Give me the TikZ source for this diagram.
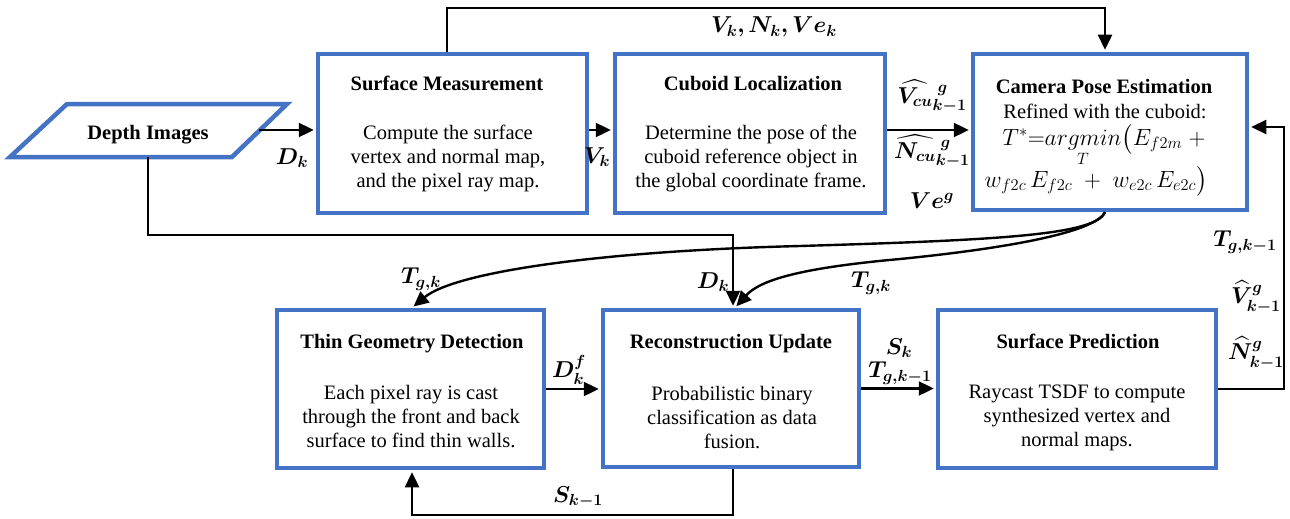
\RequirePackage{fix-cm}
\documentclass[tikz,border=0pt]{standalone}
\usepackage{amsmath}
\usepackage{bm}
\usepackage{fontspec}
\setmainfont{Liberation Serif}
\usetikzlibrary{arrows.meta}
\definecolor{boxblue}{HTML}{4472C4}
\newcommand\dgfont{\fontsize{20.5}{24}\selectfont}
\newcommand\mlfont{\fontsize{23}{26}\selectfont}
\newcommand\fmfont{\fontsize{23.5}{28}\selectfont}
\tikzset{
  box/.style={draw=boxblue, line width=4.5pt, inner sep=0pt, fill=white},
  arr/.style={line width=2.4pt, -{Triangle[length=15pt,width=14pt]}, shorten >=2pt},
  ttl/.style={font=\dgfont\bfseries, anchor=base, inner sep=0pt},
  txt/.style={font=\dgfont, align=center, inner sep=0pt},
  lab/.style={font=\dgfont, inner sep=0pt},
  mlab/.style={font=\mlfont, inner sep=0pt},
  fml/.style={font=\fmfont, inner sep=0pt, anchor=base}
}
\begin{document}
\begin{tikzpicture}[x=1pt,y=-1pt]
\useasboundingbox (0,0) rectangle (1290,519);
% boxes
\node[box,minimum width=269,minimum height=159] (sm) at (452.5,133.5) {};
\node[box,minimum width=270,minimum height=159] (cl) at (750,133.5) {};
\node[box,minimum width=274,minimum height=156] (cpe) at (1110,132) {};
\node[box,minimum width=267,minimum height=158] (tgd) at (410.5,389) {};
\node[box,minimum width=256,minimum height=157] (ru) at (731,388.5) {};
\node[box,minimum width=278,minimum height=158] (sp) at (1077,389) {};
% depth images parallelogram
\draw[boxblue, line width=4.5pt, line join=miter] (67,104) -- (287,104) -- (232,157) -- (10,157) -- cycle;
\coordinate (diR) at (259,130);
\coordinate (diB) at (148,157);
\coordinate (dturn) at (148,235);
% texts
\node[ttl] (diT) at (148,139) {Depth Images};
\node[ttl] (smT) at (447,90) {Surface Measurement};
\node[txt] (smB) at (448,158) {Compute the surface\\vertex and normal map,\\and the pixel ray map.};
\node[ttl] (clT) at (753,90) {Cuboid Localization};
\node[txt] (clB) at (751,158) {Determine the pose of the\\cuboid reference object in\\the global coordinate frame.};
\node[ttl] (cpeT) at (1104,93) {Camera Pose Estimation};
\node[lab, anchor=base] (cpeR) at (1105,118) {Refined with the cuboid:};
\node[fml] (cpeF1) at (1104,145) {$T^{*}{=}\underset{T}{argmin}\big(E_{f2m}\;+$};
\node[fml] (cpeF2) at (1096,187) {$w_{f2c}\,E_{f2c}\;+\;w_{e2c}\,E_{e2c}\big)$};
\node[ttl] (tgdT) at (412,348) {Thin Geometry Detection};
\node[txt] (tgdB) at (411,417) {Each pixel ray is cast\\through the front and back\\surface to find thin walls.};
\node[ttl] (ruT) at (731,348) {Reconstruction Update};
\node[txt] (ruB) at (732,418) {Probabilistic binary\\classification as data\\fusion.};
\node[ttl] (spT) at (1078,348) {Surface Prediction};
\node[txt] (spB) at (1077,418) {Raycast TSDF to compute\\synthesized vertex and\\normal maps.};
% connectors
\draw[arr] (diR) -- (sm.west |- diR);
\draw[arr] (sm.east |- diR) -- (cl.west |- diR);
\draw[arr] (cl.east |- diR) -- (cpe.west |- diR);
\draw[arr] ([xshift=-5.5pt]sm.north) -- ++(0,-44) -| ([xshift=-5pt]cpe.north);
\draw[arr] (diB) -- (dturn) -| ([xshift=2pt]ru.north);
\draw[arr] ([xshift=-5pt]cpe.south) .. controls (1095,235) and (1000,240) .. (800,246)
   .. controls (600,251) and (455,272) .. ([xshift=1.5pt]tgd.north);
\draw[arr] ([xshift=-5pt]cpe.south) .. controls (1095,232) and (1010,248) .. (900,259)
   .. controls (800,268) and (760,280) .. ([xshift=4pt]ru.north);
\draw[arr] (tgd.east) -- (ru.west |- tgd.east);
\draw[arr] (ru.east) -- (sp.west |- ru.east);
\draw[arr] (sp.east) -- ++(66,0) |- ([yshift=5pt]cpe.east);
\draw[arr] ([xshift=2pt]ru.south) -- ++(0,46) -| ([xshift=1.5pt]tgd.south);
% labels
\node[mlab] (l1) at (292,158) {$\bm{D_k}$};
\node[mlab] (l2) at (597,157) {$\bm{V_k}$};
\node[mlab] (l3) at (774,27) {$\bm{V_k, N_k, Ve_k}$};
\node[mlab] (l4) at (932,96) {$\bm{\widehat{V_{cu}}{}_{k-1}^{\;g}}$};
\node[mlab] (l5) at (932,151) {$\bm{\widehat{N_{cu}}{}_{k-1}^{\;g}}$};
\node[mlab] (l6) at (932,201) {$\bm{Ve^{g}}$};
\node[mlab] (l7) at (421,279) {$\bm{T_{g,k}}$};
\node[mlab] (l8) at (713,282) {$\bm{D_k}$};
\node[mlab] (l9) at (871,283) {$\bm{T_{g,k}}$};
\node[mlab] (l10) at (569,370) {$\bm{D_k^{f}}$};
\node[mlab] (l11) at (899,348) {$\bm{S_k}$};
\node[mlab] (l12) at (900,373) {$\bm{T_{g,k-1}}$};
\node[mlab] (l13) at (578,497) {$\bm{S_{k-1}}$};
\node[mlab] (l14) at (1245,242) {$\bm{T_{g,k-1}}$};
\node[mlab] (l15) at (1256,297) {$\bm{\widehat{V}^{g}_{k-1}}$};
\node[mlab] (l16) at (1256,353) {$\bm{\widehat{N}^{g}_{k-1}}$};
\end{tikzpicture}
\end{document}
